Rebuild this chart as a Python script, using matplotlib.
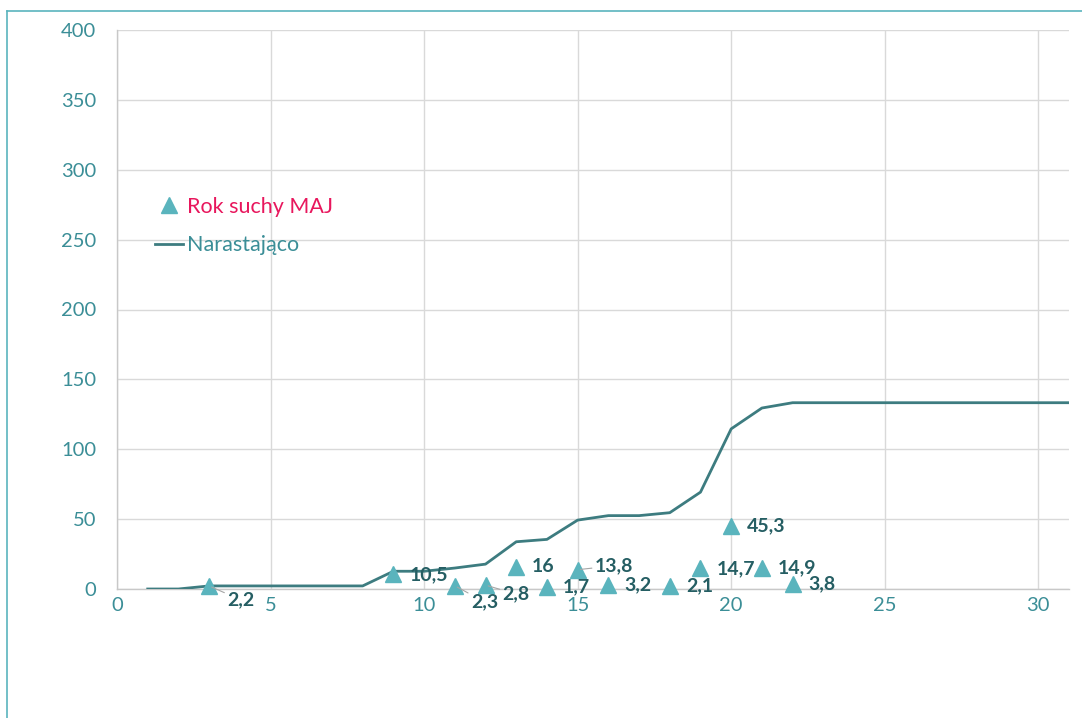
import matplotlib
matplotlib.use("Agg")
import matplotlib.pyplot as plt
from matplotlib.lines import Line2D

plt.rcParams['font.family'] = ['Lato', 'DejaVu Sans']

days = [3, 9, 11, 12, 13, 14, 15, 16, 18, 19, 20, 21, 22]
rain = [2.2, 10.5, 2.3, 2.8, 16, 1.7, 13.8, 3.2, 2.1, 14.7, 45.3, 14.9, 3.8]
labels = ["2,2", "10,5", "2,3", "2,8", "16", "1,7", "13,8", "3,2", "2,1", "14,7", "45,3", "14,9", "3,8"]
cum_days = list(range(1, 32))
cum_vals = [0, 0, 2.2, 2.2, 2.2, 2.2, 2.2, 2.2, 12.7, 12.7, 15.0, 17.8, 33.8, 35.5,
            49.3, 52.5, 52.5, 54.6, 69.3, 114.6, 129.5, 133.3, 133.3, 133.3, 133.3,
            133.3, 133.3, 133.3, 133.3, 133.3, 133.3]

TICK = '#3B8E97'
LINE = '#3D7C80'
MARK = '#5AB4BD'
LAB = '#255E63'
RED = '#E8175D'
GRID = '#D9D9D9'

W, H = 1082, 718
fig = plt.figure(figsize=(W / 100, H / 100), dpi=100)
ax = fig.add_axes([117 / W, 1 - 589 / H, (1069 - 117) / W, (589 - 30) / H])

ax.plot(cum_days, cum_vals, color=LINE, lw=2, label='Narastająco', zorder=3)
ax.plot(days, rain, linestyle='none', marker='^', ms=12, color=MARK, mec=MARK,
        label='Rok suchy MAJ', zorder=4, clip_on=False)

# label offsets in pixels (dx, dy)
offsets = {0: (18, -14), 2: (16, -16), 3: (17, -9), 6: (17, 4)}
for i, (d, v, t) in enumerate(zip(days, rain, labels)):
    dx, dy = offsets.get(i, (16, 0))
    lead = i in offsets
    ax.annotate(t, (d, v), xytext=(dx * 0.72, dy * 0.72), textcoords='offset points',
                ha='left', va='center', fontsize=14, fontweight='bold', color=LAB,
                arrowprops=dict(arrowstyle='-', color='#A6A6A6', lw=0.8,
                                shrinkA=0, shrinkB=2) if lead else None,
                zorder=5, annotation_clip=False)

ax.set_xlim(0, 31)
ax.set_ylim(0, 400)
ax.set_xticks(range(0, 31, 5))
ax.set_yticks(range(0, 401, 50))
ax.grid(True, color=GRID, lw=1)
ax.set_axisbelow(True)
for s in ['top', 'right']:
    ax.spines[s].set_visible(False)
for s in ['left', 'bottom']:
    ax.spines[s].set_color('#C8C8C8')
    ax.spines[s].set_linewidth(1)
ax.tick_params(length=0, labelsize=14.5, labelcolor=TICK)
ax.tick_params(axis='x', pad=6)
ax.tick_params(axis='y', pad=15)

h, l = ax.get_legend_handles_labels()
leg = ax.legend([h[1], h[0]], [l[1], l[0]], loc='upper left',
                bbox_to_anchor=(155 / W, 1 - 197 / H),
                bbox_transform=fig.transFigure, frameon=False, fontsize=15.5,
                handlelength=1.3, handletextpad=0.2, labelspacing=0.85,
                borderpad=0, borderaxespad=0)
txts = leg.get_texts()
txts[0].set_color(RED)
txts[1].set_color(TICK)

# figure border (teal)
fig.add_artist(Line2D([7 / W, 1], [1 - 10.5 / H, 1 - 10.5 / H], color='#5AB4BD', lw=1.2,
                      transform=fig.transFigure))
fig.add_artist(Line2D([7 / W, 7 / W], [0, 1 - 10.5 / H], color='#5AB4BD', lw=1.2,
                      transform=fig.transFigure))

fig.savefig('out.png', dpi=100)
